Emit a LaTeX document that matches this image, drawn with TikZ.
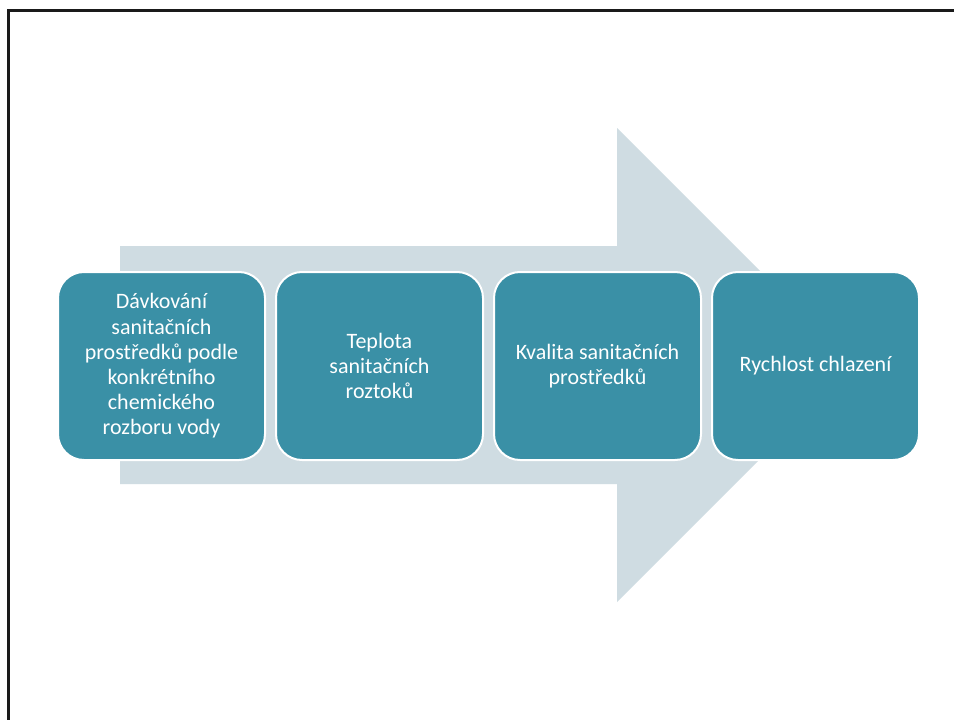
\documentclass[tikz,border=0pt]{standalone}
\usepackage{fontspec}
\setmainfont{Carlito}
\definecolor{boxfill}{HTML}{3A90A6}
\definecolor{arrowfill}{HTML}{CFDCE2}
\definecolor{frameline}{HTML}{1A1A1A}
\begin{document}
\begin{tikzpicture}[x=1pt,y=-1pt,
  stepbox/.style={draw=white,line width=2pt,fill=boxfill,rounded corners=26pt,
    minimum width=207pt,minimum height=188pt,anchor=north west,inner sep=0pt},
  steptext/.style={text=white,align=center,font=\fontsize{22}{25.2}\selectfont}]
\useasboundingbox (0,0) rectangle (954,720);
\fill[white] (0,0) rectangle (954,720);
% frame
\draw[frameline,line width=3pt] (8.5,720) -- (8.5,10.5) -- (954,10.5);
% big arrow
\fill[arrowfill] (120,246) -- (617,246) -- (617,128) -- (854,365) -- (617,602) -- (617,484) -- (120,484) -- cycle;
% boxes
\node[stepbox] (b1) at (57,271) {};
\node[stepbox] (b2) at (275,271) {};
\node[stepbox] (b3) at (493,271) {};
\node[stepbox] (b4) at (711,271) {};
\node[steptext] (t1) at (b1.center) {Dávkování\\sanitačních\\prostředků podle\\konkrétního\\chemického\\rozboru vody};
\node[steptext] (t2) at (b2.center) {Teplota\\sanitačních\\roztoků};
\node[steptext] (t3) at (b3.center) {Kvalita sanitačních\\prostředků};
\node[steptext] (t4) at (b4.center) {Rychlost chlazení};
\end{tikzpicture}
\end{document}
